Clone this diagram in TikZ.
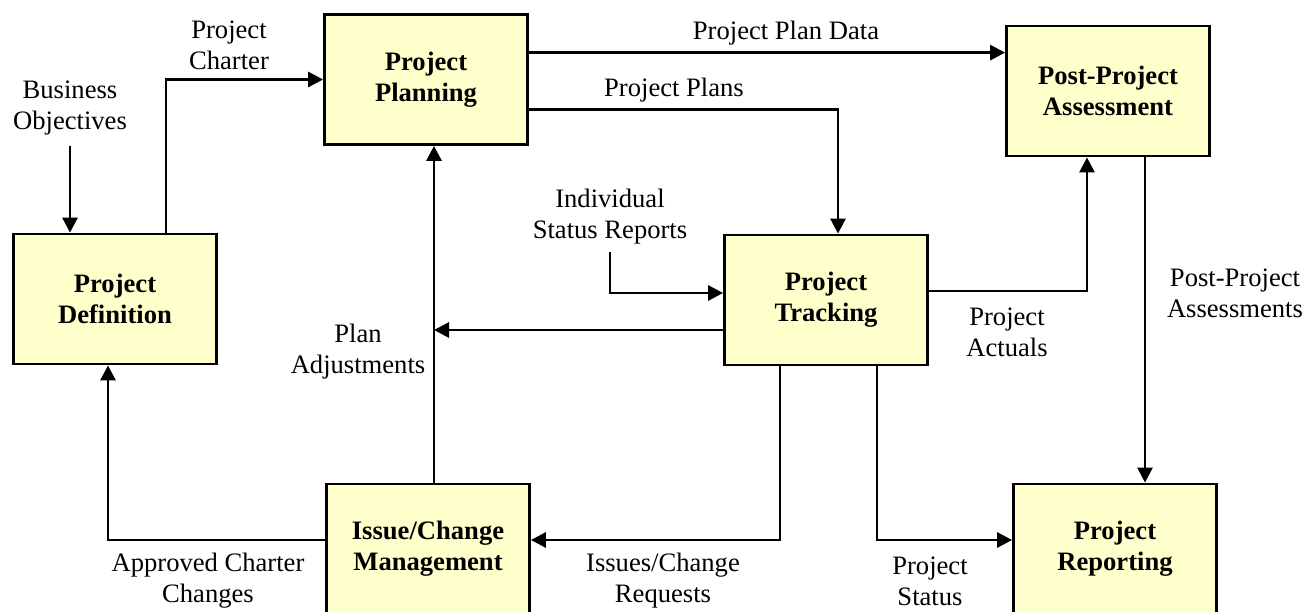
\documentclass[tikz,border=0pt]{standalone}
\usepackage{fontspec}
\setmainfont{Liberation Serif}
\usepackage{tikz}
\usetikzlibrary{arrows.meta, positioning, calc}
\definecolor{paleyellow}{HTML}{FFFFCC}

\begin{document}
\begin{tikzpicture}
  [
    x=1pt, y=-1pt,
    Box/.style={rectangle, draw=black, fill=paleyellow, line width=2.8pt, minimum width=203pt, minimum height=130pt, align=center, font=\fontsize{26.6}{31}\selectfont\bfseries},
    Label/.style={align=center, inner sep=1pt, font=\fontsize{26.6}{31}\selectfont},
    Flow/.style={-{Triangle[length=15pt, width=15pt]}, draw, line width=2.8pt}
  ]
  \useasboundingbox (0,0) rectangle (1314,612);
  \clip (0,0) rectangle (1314,612);
  % Nodes
  \node[Box] (def) at (115, 299) {Project\\Definition};
  \node[Box] (plan) at (426, 79.5) {Project\\Planning};
  \node[Box] (post) at (1108, 91) {Post-Project\\Assessment};
  \node[Box] (track) at (826, 300) {Project\\Tracking};
  \node[Box] (issue) at (428, 549) {Issue/Change\\Management};
  \node[Box] (report) at (1115, 549) {Project\\Reporting};
  % Labels
  \node[Label] (biz) at (70, 108) {Business\\Objectives};
  \node[Label] (charter) at (229, 45) {Project\\Charter};
  \node[Label] (plandata) at (786, 33) {Project Plan Data};
  \node[Label] (plans) at (674, 90) {Project Plans};
  \node[Label] (indiv) at (610, 217) {Individual\\Status Reports};
  \node[Label] (adjust) at (358, 352) {Plan\\Adjustments};
  \node[Label] (actuals) at (1007, 332) {Project\\Actuals};
  \node[Label] (assess) at (1235, 293) {Post-Project\\Assessments};
  \node[Label] (approved) at (208, 581) {Approved Charter\\Changes};
  \node[Label] (issues) at (663, 581) {Issues/Change\\Requests};
  \node[Label] (status) at (930, 581) {Project\\Status};
  \coordinate (adjfoot) at ([xshift=6pt]issue.north);
  % Lines
  \path[Flow] ([yshift=-10pt]biz.south) -- (biz.south |- def.north);
  \path[Flow] ([xshift=-52pt]def.north east) |- (plan.west);
  \path[Flow] ([yshift=-28pt]post.north west -| plan.east) -- ([yshift=-28pt]post.north west);
  \path[Flow] ([yshift=36pt]plan.south east) -| ([xshift=12pt]track.north);
  \path[Flow] ([yshift=-6pt]indiv.south) |- ([yshift=7pt]track.west);
  \path[Flow] (adjfoot) -- (adjfoot |- plan.south);
  \path[Flow] ([yshift=-30pt]track.west) -- ([yshift=-30pt]track.west -| adjfoot);
  \path[Flow] ([yshift=9pt]track.east) -| ([xshift=-21pt]post.south);
  \path[Flow] ([xshift=37pt]post.south) -- ([xshift=37pt]post.south |- report.north);
  \path[Flow] ([xshift=-46pt]track.south) |- ([yshift=9pt]issue.east);
  \path[Flow] ([xshift=51pt]track.south) |- ([yshift=9pt]report.west);
  \path[Flow] ([yshift=9pt]issue.west) -| ([xshift=-7pt]def.south);
\end{tikzpicture}
\end{document}
